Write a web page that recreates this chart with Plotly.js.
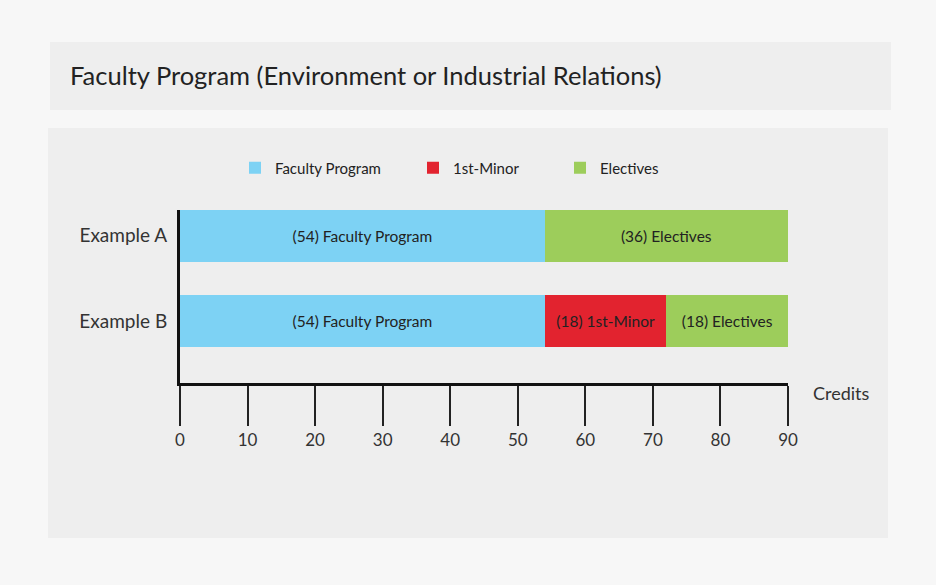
<!DOCTYPE html>
<html>
<head>
<meta charset="utf-8">
<script src="https://cdn.plot.ly/plotly-3.0.1.min.js"></script>
<style>
html,body{margin:0;padding:0;background:#f7f7f7;}
#chart{width:936px;height:585px;}
</style>
</head>
<body>
<div id="chart"></div>
<script>
const categories = ["Example B", "Example A"];
const seriesNames = ["Faculty Program", "1st-Minor", "Electives"];
const facultyProgram = [54, 54];
const firstMinor = [18, 0];
const electives = [18, 36];
const facultyLabels = ["(54) Faculty Program", "(54) Faculty Program"];
const minorLabels = ["(18) 1st-Minor", ""];
const electiveLabels = ["(18) Electives", "(36) Electives"];
const xTicks = [0, 10, 20, 30, 40, 50, 60, 70, 80, 90];

const FONT = "Lato, 'Open Sans', sans-serif";
const textFont = {family: FONT, size: 15.5, color: "#222"};

function barTrace(name, vals, labels, color, legendId) {
  return {
    type: "bar", orientation: "h", name: name, legend: legendId,
    y: categories, x: vals, text: labels,
    textposition: "inside", insidetextanchor: "middle",
    textfont: textFont, constraintext: "none",
    marker: {color: color, line: {width: 0}},
    hoverinfo: "name+x", width: 0.61
  };
}

const data = [
  barTrace(seriesNames[0], facultyProgram, facultyLabels, "#7dd2f4", "legend"),
  barTrace(seriesNames[1], firstMinor, minorLabels, "#e2232f", "legend2"),
  barTrace(seriesNames[2], electives, electiveLabels, "#9dcd5b", "legend3")
];

// plot area: left 180, right 788, top 210, bottom 383
const L = 180, R = 788, T = 210, B = 383;
const W = R - L, H = B - T;
const px = v => (v - L) / W;
const py = v => (B - v) / H;

function legendAt(xPix) {
  return {
    orientation: "h", x: px(xPix), xanchor: "left", y: py(168), yanchor: "middle",
    font: {family: FONT, size: 15, color: "#222"},
    bgcolor: "rgba(0,0,0,0)", itemwidth: 30
  };
}

const layout = {
  width: 936, height: 585,
  margin: {l: L, r: 936 - R, t: T, b: 585 - B, pad: 0},
  paper_bgcolor: "#f7f7f7",
  plot_bgcolor: "rgba(0,0,0,0)",
  barmode: "stack",
  showlegend: true,
  legend: legendAt(235),
  legend2: legendAt(413),
  legend3: legendAt(560),
  xaxis: {
    range: [0, 90], tickvals: xTicks, ticktext: xTicks.map(String),
    ticks: "outside", ticklen: 40, tickwidth: 2, tickcolor: "#222",
    showline: true, linecolor: "#111", linewidth: 3,
    showgrid: false, zeroline: false, fixedrange: true,
    tickfont: {family: FONT, size: 17, color: "#333"}
  },
  yaxis: {
    range: [-0.72, 1.30], showline: true, linecolor: "#111", linewidth: 3,
    ticks: "", showgrid: false, zeroline: false, ticklabelstandoff: 6,
    tickfont: {family: FONT, size: 19, color: "#333"}
  },
  shapes: [
    {type: "rect", xref: "paper", yref: "paper", layer: "below",
     x0: px(50), x1: px(891), y0: py(110), y1: py(42),
     fillcolor: "#eeeeee", line: {width: 0}},
    {type: "rect", xref: "paper", yref: "paper", layer: "below",
     x0: px(48), x1: px(888), y0: py(538), y1: py(128),
     fillcolor: "#eeeeee", line: {width: 0}}
  ],
  annotations: [
    {text: "Faculty Program (Environment or Industrial Relations)", xref: "paper", yref: "paper",
     x: px(68), y: py(75), xanchor: "left", yanchor: "middle", showarrow: false,
     font: {family: FONT, size: 25.5, color: "#222"}},
    {text: "Credits", xref: "paper", yref: "paper",
     x: px(811), y: py(393), xanchor: "left", yanchor: "middle", showarrow: false,
     font: {family: FONT, size: 18, color: "#333"}}
  ]
};

Plotly.newPlot("chart", data, layout, {displayModeBar: false, staticPlot: true});
</script>
</body>
</html>
